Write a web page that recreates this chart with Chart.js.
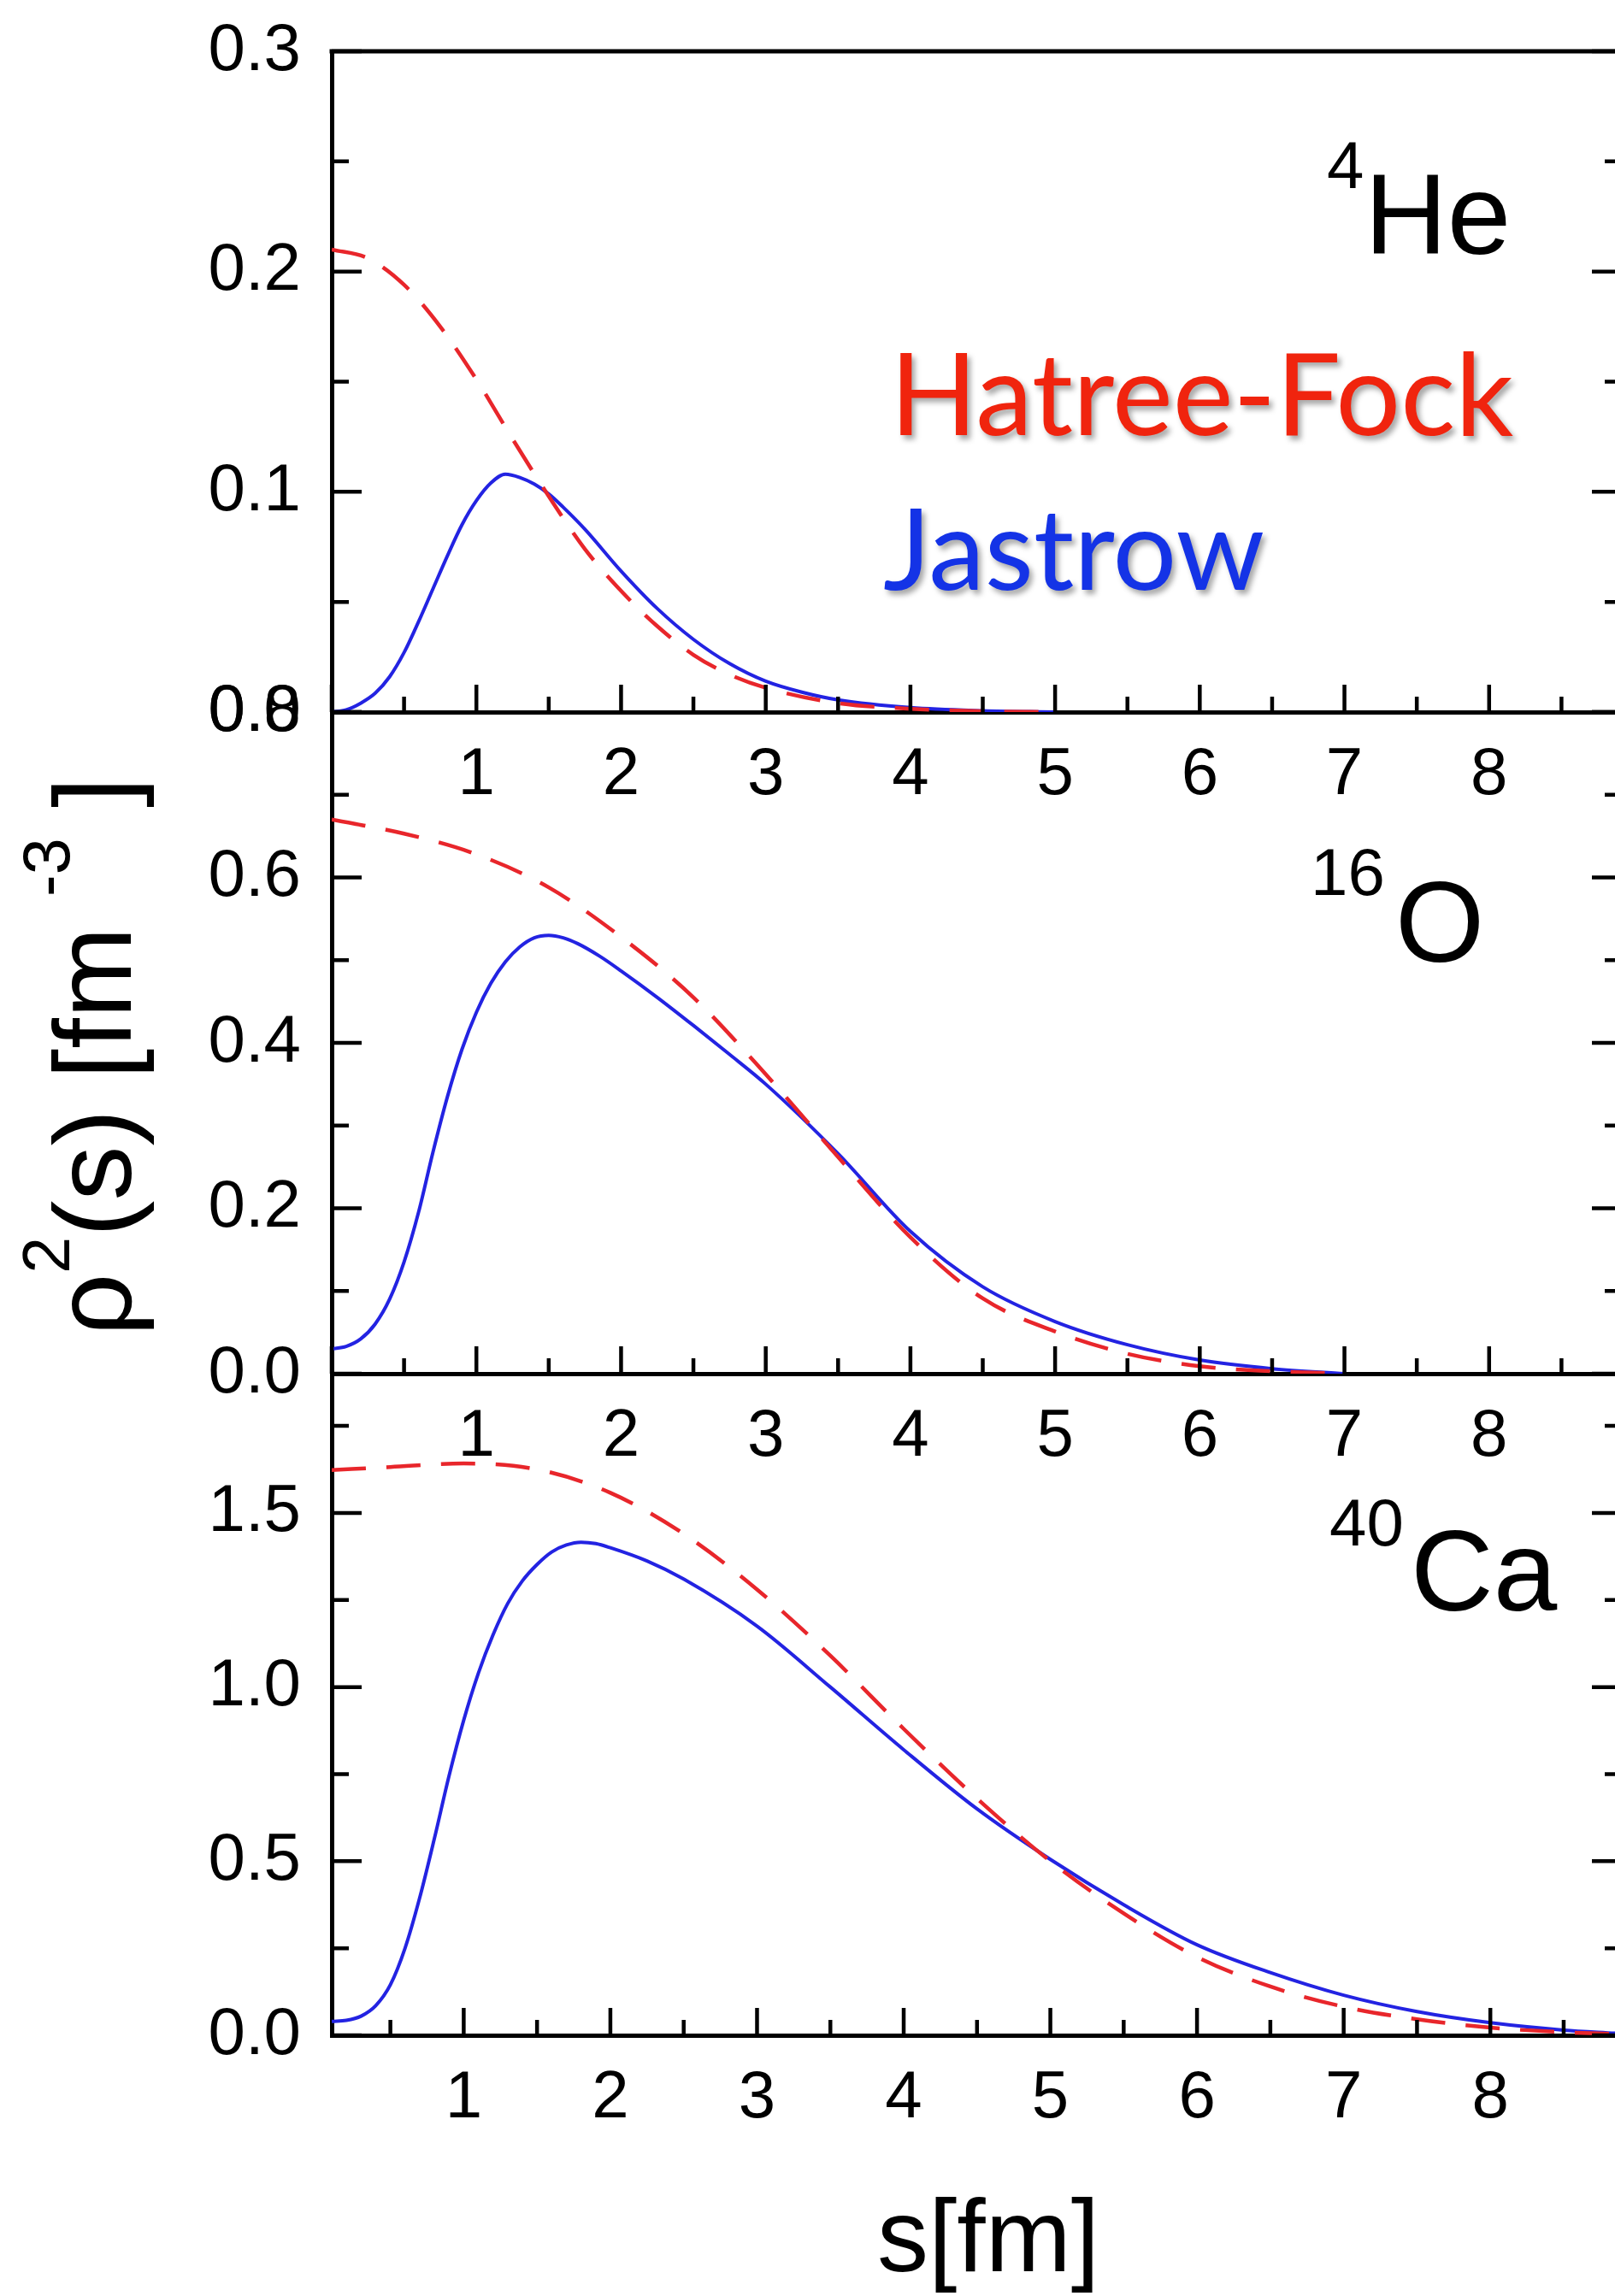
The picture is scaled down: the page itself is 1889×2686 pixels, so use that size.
<!DOCTYPE html>
<html>
<head>
<meta charset="utf-8">
<script src="https://cdn.jsdelivr.net/npm/chart.js"></script>
<style>
  html, body { margin: 0; padding: 0; background: #fff; }
  #wrap { position: relative; width: 1889px; height: 2686px; overflow: hidden; background: #fff; }
  #wrap canvas { position: absolute; left: 0; top: 0; }
</style>
</head>
<body>
<div id="wrap">
  <canvas id="heChart" width="1889" height="2686"></canvas>
  <canvas id="oChart" width="1889" height="2686"></canvas>
  <canvas id="caChart" width="1889" height="2686"></canvas>
</div>
<script>
// values: s [fm] and rho^2(s) [fm^-3]

// 4He
const sHeHF = [0, 0.25, 0.5, 0.75, 1.0, 1.25, 1.5, 1.75, 2.0, 2.25, 2.5, 2.75, 3.0, 3.5, 4.0, 4.5, 5.0];
const heHF  = [0.210, 0.206, 0.194, 0.175, 0.151, 0.124, 0.098, 0.074, 0.055, 0.039, 0.026, 0.017, 0.011, 0.004, 0.0015, 0.0004, 0];
const sHeJ  = [0, 0.1, 0.2, 0.3, 0.4, 0.5, 0.6, 0.7, 0.8, 0.9, 1.0, 1.1, 1.2, 1.3, 1.4, 1.5, 1.6, 1.75, 2.0, 2.25, 2.5, 2.75, 3.0, 3.25, 3.5, 4.0, 4.5, 5.0];
const heJ   = [0, 0.001, 0.004, 0.0085, 0.016, 0.027, 0.041, 0.056, 0.071, 0.085, 0.096, 0.104, 0.108, 0.1065, 0.1035, 0.099, 0.093, 0.083, 0.064, 0.047, 0.033, 0.022, 0.014, 0.009, 0.0055, 0.002, 0.0006, 0];

// 16O
const sOHF = [0, 0.5, 1.0, 1.5, 2.0, 2.5, 3.0, 3.5, 4.0, 4.5, 5.0, 5.5, 6.0, 6.5, 7.0];
const oHF  = [0.670, 0.653, 0.628, 0.588, 0.528, 0.455, 0.362, 0.262, 0.165, 0.091, 0.051, 0.024, 0.009, 0.003, 0];
const sOJ  = [0, 0.1, 0.2, 0.3, 0.4, 0.5, 0.6, 0.7, 0.8, 0.9, 1.0, 1.1, 1.2, 1.3, 1.4, 1.5, 1.6, 1.7, 1.85, 2.0, 2.25, 2.5, 2.75, 3.0, 3.5, 4.0, 4.5, 5.0, 5.5, 6.0, 6.5, 7.0];
const oJ   = [0.030, 0.033, 0.042, 0.060, 0.090, 0.135, 0.195, 0.268, 0.335, 0.392, 0.437, 0.472, 0.498, 0.516, 0.527, 0.530, 0.527, 0.520, 0.505, 0.487, 0.455, 0.421, 0.386, 0.350, 0.266, 0.172, 0.105, 0.063, 0.035, 0.0165, 0.006, 0];

// 40Ca
const sCaHF = [0.1, 0.5, 1.0, 1.5, 2.0, 2.5, 3.0, 3.5, 4.0, 4.5, 5.0, 5.5, 6.0, 6.5, 7.0, 7.5, 8.0, 8.5, 8.85];
const caHF  = [1.623, 1.632, 1.642, 1.625, 1.558, 1.44, 1.28, 1.09, 0.88, 0.68, 0.50, 0.35, 0.225, 0.14, 0.082, 0.046, 0.022, 0.009, 0.004];
const sCaJ  = [0.1, 0.2, 0.3, 0.4, 0.5, 0.6, 0.7, 0.8, 0.9, 1.0, 1.1, 1.2, 1.3, 1.4, 1.5, 1.6, 1.7, 1.8, 1.9, 2.0, 2.25, 2.5, 3.0, 3.5, 4.0, 4.5, 5.0, 5.5, 6.0, 6.5, 7.0, 7.5, 8.0, 8.5, 8.85];
const caJ   = [0.040, 0.043, 0.055, 0.085, 0.145, 0.250, 0.395, 0.565, 0.745, 0.905, 1.040, 1.150, 1.240, 1.305, 1.352, 1.388, 1.408, 1.416, 1.412, 1.400, 1.362, 1.31, 1.175, 1.00, 0.82, 0.65, 0.505, 0.375, 0.26, 0.18, 0.115, 0.068, 0.036, 0.015, 0.006];

const seriesNames = ['Hatree-Fock', 'Jastrow'];

const PAGE_H = 2686;
const X_AXIS_H = 120;
const FONT = "'Liberation Sans', Arial, Helvetica, sans-serif";
const RED = '#e8262b';
const BLUE = '#2323e2';

function pairs(xs, ys) {
    return xs.map((x, i) => ({ x: x, y: ys[i] }));
}

// half-step positions between the labelled ticks
function minorValues(scale) {
    const t = scale.ticks.map(k => k.value);
    const step = t[1] - t[0];
    const out = [];
    for (let v = t[0] - step / 2; v <= scale.max + 1e-9; v += step) {
        if (v >= scale.min - 1e-9) out.push(v);
    }
    return out;
}

// inward tick marks (the library only draws outward ones)
const tickMarks = {
    id: 'tickMarks',
    afterDraw(chart, args, opts) {
        const ctx = chart.ctx, a = chart.chartArea;
        const xs = chart.scales.x, ys = chart.scales.y;
        ctx.save();
        ctx.strokeStyle = '#000';
        ctx.lineWidth = 4.5;
        ctx.beginPath();
        xs.ticks.forEach(t => {
            const p = xs.getPixelForValue(t.value);
            ctx.moveTo(p, a.bottom); ctx.lineTo(p, a.bottom - 32);
        });
        minorValues(xs).forEach(v => {
            const p = xs.getPixelForValue(v);
            ctx.moveTo(p, a.bottom); ctx.lineTo(p, a.bottom - 18);
        });
        ys.ticks.forEach(t => {
            const p = ys.getPixelForValue(t.value);
            ctx.moveTo(a.left, p); ctx.lineTo(a.left + 35, p);
            ctx.moveTo(a.right, p); ctx.lineTo(a.right - 27, p);
        });
        minorValues(ys).forEach(v => {
            const p = ys.getPixelForValue(v);
            ctx.moveTo(a.left, p); ctx.lineTo(a.left + 20, p);
            ctx.moveTo(a.right, p); ctx.lineTo(a.right - 12, p);
        });
        ctx.stroke();
        if (opts.topBorder) {
            ctx.lineWidth = 5;
            ctx.beginPath();
            ctx.moveTo(a.left - 2.5, a.top);
            ctx.lineTo(a.right, a.top);
            ctx.stroke();
        }
        ctx.restore();
    }
};

function drawYTitle(ctx) {
    const big = '128px ' + FONT, small = '77px ' + FONT;
    const parts = [['\u03C1', big, 0], ['2', small, -72], ['(s) [fm ', big, 0], ['-3', small, -72], [' ]', big, 0]];
    ctx.save();
    let total = 0;
    parts.forEach(p => { ctx.font = p[1]; total += ctx.measureText(p[0]).width; });
    ctx.translate(153, 1236);
    ctx.rotate(-Math.PI / 2);
    ctx.fillStyle = '#000';
    ctx.textAlign = 'left';
    ctx.textBaseline = 'alphabetic';
    let x = -total / 2;
    parts.forEach(p => {
        ctx.font = p[1];
        ctx.fillText(p[0], x, p[2]);
        x += ctx.measureText(p[0]).width;
    });
    ctx.restore();
}

// nuclide names, legend words, axis titles
const panelText = {
    id: 'panelText',
    afterDraw(chart, args, opts) {
        const ctx = chart.ctx;
        ctx.save();
        ctx.fillStyle = '#000';
        ctx.textAlign = 'left';
        ctx.textBaseline = 'alphabetic';
        ctx.font = '78px ' + FONT;
        ctx.fillText(opts.sup, opts.supX, opts.supY);
        ctx.font = '134px ' + FONT;
        ctx.fillText(opts.main, opts.mainX, opts.mainY);

        if (opts.legend) {
            ctx.shadowColor = 'rgba(0,0,0,0.35)';
            ctx.shadowOffsetX = 4;
            ctx.shadowOffsetY = 5;
            ctx.shadowBlur = 6;
            ctx.font = '134px Lato, sans-serif';
            ctx.fillStyle = '#f0240e';
            ctx.fillText(seriesNames[0], 1041, 509);
            ctx.font = '132px Lato, sans-serif';
            ctx.fillStyle = '#1433e6';
            ctx.fillText(seriesNames[1], 1033, 690);
            ctx.shadowColor = 'transparent';
        }
        if (opts.yTitle) drawYTitle(ctx);
        if (opts.xTitle) {
            ctx.fillStyle = '#000';
            ctx.font = '120px ' + FONT;
            ctx.textAlign = 'center';
            ctx.fillText('s[fm]', 1156, 2657);
        }
        ctx.restore();
    }
};

function makeChart(id, cfg) {
    return new Chart(document.getElementById(id), {
        type: 'line',
        data: {
            datasets: [{
                label: seriesNames[0],
                data: pairs(cfg.sHF, cfg.hf),
                borderColor: RED,
                borderWidth: 4.5,
                borderDash: [40, 24],
                pointRadius: 0,
                cubicInterpolationMode: 'monotone',
                fill: false
            }, {
                label: seriesNames[1],
                data: pairs(cfg.sJ, cfg.j),
                borderColor: BLUE,
                borderWidth: 4,
                pointRadius: 0,
                cubicInterpolationMode: 'monotone',
                fill: false
            }]
        },
        options: {
            responsive: false,
            animation: false,
            events: [],
            layout: { padding: { top: cfg.top, bottom: PAGE_H - cfg.bottom - X_AXIS_H, left: 0, right: 0 } },
            plugins: {
                legend: { display: false },
                tooltip: { enabled: false },
                tickMarks: { topBorder: cfg.topBorder },
                panelText: cfg.text
            },
            scales: {
                x: {
                    type: 'linear',
                    min: cfg.xMin,
                    max: cfg.xMax,
                    afterFit(s) { s.height = X_AXIS_H; s.paddingLeft = 0; s.paddingRight = 0; },
                    grid: { display: false, drawTicks: false },
                    border: { display: true, color: '#000', width: 5 },
                    ticks: {
                        stepSize: 1,
                        autoSkip: false,
                        maxRotation: 0,
                        includeBounds: false,
                        padding: 28,
                        color: '#000',
                        font: { family: FONT, size: 78 },
                        callback: v => (v === 0 ? '' : String(v))
                    }
                },
                y: {
                    min: 0,
                    max: cfg.yMax,
                    afterFit(s) { s.width = 388; s.paddingTop = 0; s.paddingBottom = 0; },
                    grid: { display: false, drawTicks: false },
                    border: { display: true, color: '#000', width: 5 },
                    ticks: {
                        stepSize: cfg.yStep,
                        includeBounds: false,
                        padding: 36,
                        color: '#000',
                        font: { family: FONT, size: 78 },
                        callback: v => Number(v).toFixed(1)
                    }
                }
            }
        },
        plugins: [tickMarks, panelText]
    });
}

makeChart('heChart', {
    sHF: sHeHF, hf: heHF, sJ: sHeJ, j: heJ,
    top: 60, bottom: 833, xMin: 0, xMax: 8.87, yMax: 0.3, yStep: 0.1, topBorder: true,
    text: { sup: '4', supX: 1552, supY: 220, main: 'He', mainX: 1596, mainY: 297, legend: true }
});

makeChart('oChart', {
    sHF: sOHF, hf: oHF, sJ: sOJ, j: oJ,
    top: 833, bottom: 1607, xMin: 0, xMax: 8.87, yMax: 0.8, yStep: 0.2, topBorder: false,
    text: { sup: '16', supX: 1533, supY: 1047, main: 'O', mainX: 1632, mainY: 1125, yTitle: true }
});

makeChart('caChart', {
    sHF: sCaHF, hf: caHF, sJ: sCaJ, j: caJ,
    top: 1607, bottom: 2381, xMin: 0.1, xMax: 8.85, yMax: 1.9, yStep: 0.5, topBorder: false,
    text: { sup: '40', supX: 1555, supY: 1808, main: 'Ca', mainX: 1650, mainY: 1884, xTitle: true }
});
</script>
</body>
</html>
